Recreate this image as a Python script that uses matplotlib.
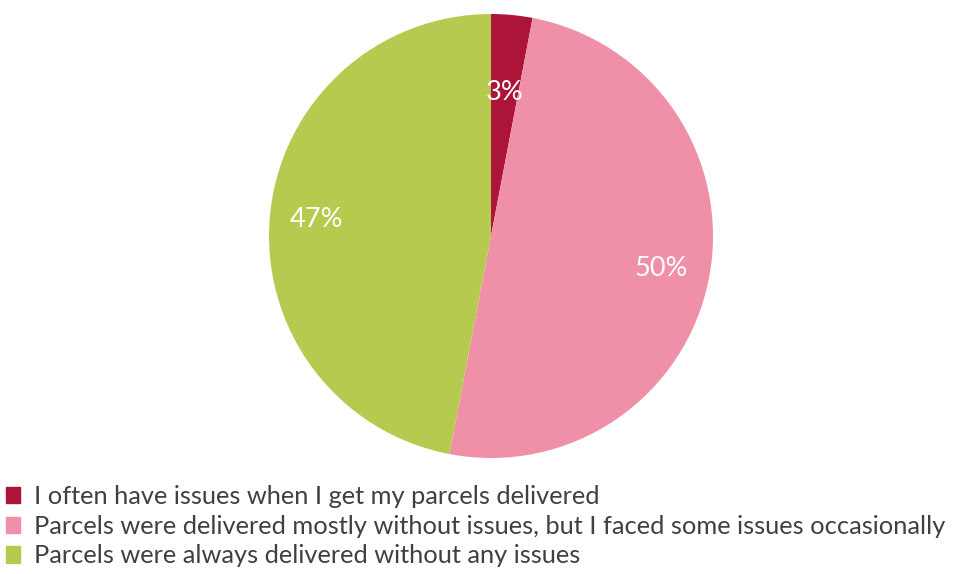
import matplotlib
matplotlib.use('Agg')
import matplotlib.pyplot as plt
import numpy as np

plt.rcParams['font.family'] = ['Lato', 'DejaVu Sans']

# survey answers about parcel delivery
labels = ['I often have issues when I get my parcels delivered',
          'Parcels were delivered mostly without issues, but I faced some issues occasionally',
          'Parcels were always delivered without any issues']
shares = [3, 50, 47]
colors = ['#AC1439', '#F08FA8', '#B7CA50']
label_radius = [0.65, 0.78, 0.79]

fig = plt.figure(figsize=(9.68, 5.74), dpi=100)
ax = fig.add_axes([0.2779, 0.2021, 0.4587, 0.7735])

wedges, _ = ax.pie(shares, colors=colors, startangle=90, counterclock=False,
                   wedgeprops=dict(linewidth=0))
ax.set_xlim(-1, 1)
ax.set_ylim(-1, 1)
ax.set_aspect('equal')

for w, v, r in zip(wedges, shares, label_radius):
    mid = np.deg2rad((w.theta1 + w.theta2) / 2)
    ax.text(r * np.cos(mid), r * np.sin(mid), f'{v}%', color='white',
            fontsize=19.5, ha='center', va='center')

handles = [plt.Rectangle((0, 0), 1, 1, color=c) for c in colors]
fig.legend(handles, labels, loc='upper left', bbox_to_anchor=(0.004, 0.160),
           frameon=False, fontsize=18.3, handlelength=0.55, handleheight=0.6,
           handletextpad=0.55, labelspacing=0.27, borderaxespad=0,
           borderpad=0.1, labelcolor='#404040')

fig.savefig('out.png', dpi=100)
